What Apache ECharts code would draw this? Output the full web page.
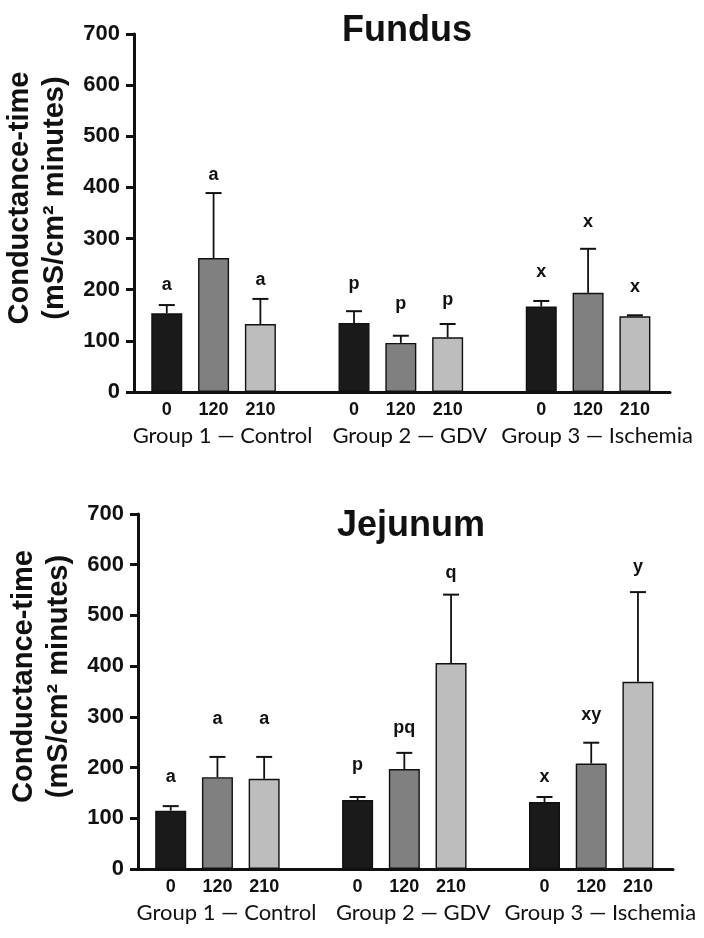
<!DOCTYPE html>
<html>
<head>
<meta charset="utf-8">
<script src="https://cdn.jsdelivr.net/npm/echarts@6/dist/echarts.min.js"></script>
<style>
html,body{margin:0;padding:0;background:#fff;}
#chart{width:704px;height:938px;}
</style>
</head>
<body>
<div id="chart"></div>
<script>
// ---- data ----
const times = ['0', '120', '210'];
const groups = ['Group 1 \u2014 Control', 'Group 2 \u2014 GDV', 'Group 3 \u2014 Ischemia'];
const yTicks = [0, 100, 200, 300, 400, 500, 600, 700];

const fundusMean = [154, 262, 133, 135, 96, 107, 167, 194, 148];
const fundusErr = [16, 127, 49, 23, 14, 26, 11, 86, 2];
const fundusLetters = ['a', 'a', 'a', 'p', 'p', 'p', 'x', 'x', 'x'];
const fundusLetterY = [209, 424, 219, 211, 172, 180, 235, 332, 205];

const jejunumMean = [115, 181, 178, 136, 197, 406, 132, 208, 369];
const jejunumErr = [9, 40, 43, 6, 32, 135, 10, 41, 177];
const jejunumLetters = ['a', 'a', 'a', 'p', 'pq', 'q', 'x', 'xy', 'y'];
const jejunumLetterY = [181, 296, 296, 205, 278, 584, 181, 304, 596];

// ---- styling / layout ----
const barColors = ['#1a1a1a', '#808080', '#bdbdbd'];
const boldFont = "'Liberation Sans', Arial, sans-serif";
const groupFont = "Lato, 'Noto Sans', sans-serif";
const xMin = -0.7, xMax = 10.75;

function pos(i) { return Math.floor(i / 3) * 4 + (i % 3); }
const tickPos = [];
groups.forEach((g, k) => times.forEach((t, j) => tickPos.push(k * 4 + j)));
const groupPos = groups.map((g, k) => k * 4 + 1);

function xAxesFor(gi) {
  return [
    {
      type: 'value', gridIndex: gi, min: xMin, max: xMax, position: 'bottom',
      axisLine: { show: true, onZero: false, lineStyle: { color: '#111', width: 3 } },
      axisTick: { show: false }, splitLine: { show: false },
      axisLabel: {
        customValues: tickPos, margin: 9,
        formatter: v => times[Math.round(v) % 4],
        fontFamily: boldFont, fontWeight: 'bold', fontSize: 18, color: '#111'
      }
    },
    {
      type: 'value', gridIndex: gi, min: xMin, max: xMax, position: 'bottom',
      axisLine: { show: false, onZero: false }, axisTick: { show: false }, splitLine: { show: false },
      axisLabel: {
        customValues: groupPos, margin: 33,
        formatter: v => groups[Math.round((v - 1) / 4)],
        fontFamily: groupFont, fontSize: 22, color: '#111', padding: [0, 0, 0, 18]
      }
    }
  ];
}
function yAxisFor(gi) {
  return {
    type: 'value', gridIndex: gi, min: yTicks[0], max: yTicks[yTicks.length - 1], interval: 100,
    position: 'left',
    name: 'Conductance-time\n(mS/cm\u00b2 minutes)',
    nameLocation: 'middle', nameRotate: 90, nameGap: 59,
    nameTextStyle: { fontFamily: boldFont, fontWeight: 'bold', fontSize: 29, lineHeight: 35, color: '#111', padding: [0, 0, 0, 30] },
    axisLine: { show: true, onZero: false, lineStyle: { color: '#111', width: 3 } },
    axisTick: { show: true, inside: false, length: 8, lineStyle: { color: '#111', width: 3 } },
    splitLine: { show: false },
    axisLabel: { margin: 14, fontFamily: boldFont, fontWeight: 'bold', fontSize: 22, color: '#111' }
  };
}

function barSeries(gi, means) {
  return {
    type: 'bar', xAxisIndex: gi * 2, yAxisIndex: gi, barWidth: 31,
    data: means.map((m, i) => ({
      value: [pos(i), m],
      itemStyle: { color: barColors[i % 3], borderColor: '#111', borderWidth: 1.4 }
    })),
    z: 2
  };
}
function errSeries(gi, means, errs) {
  return {
    type: 'custom', xAxisIndex: gi * 2, yAxisIndex: gi,
    data: means.map((m, i) => [pos(i), m, m + errs[i]]),
    renderItem: function (params, api) {
      const lo = api.coord([api.value(0), api.value(1)]);
      const hi = api.coord([api.value(0), api.value(2)]);
      const cap = 8;
      return {
        type: 'group',
        children: [
          { type: 'line', shape: { x1: lo[0], y1: lo[1], x2: hi[0], y2: hi[1] }, style: { stroke: '#111', lineWidth: 1.8 } },
          { type: 'line', shape: { x1: hi[0] - cap, y1: hi[1], x2: hi[0] + cap, y2: hi[1] }, style: { stroke: '#111', lineWidth: 2 } }
        ]
      };
    },
    z: 3
  };
}
function letterSeries(gi, letters, ly) {
  return {
    type: 'custom', xAxisIndex: gi * 2, yAxisIndex: gi,
    data: ly.map((y, i) => [pos(i), y, i]),
    renderItem: function (params, api) {
      const p = api.coord([api.value(0), api.value(1)]);
      return {
        type: 'text', x: p[0], y: p[1],
        style: { text: letters[api.value(2)], align: 'center', verticalAlign: 'middle',
          fontFamily: boldFont, fontWeight: 'bold', fontSize: 18, fill: '#111' }
      };
    },
    z: 4
  };
}

const chart = echarts.init(document.getElementById('chart'), null, { renderer: 'canvas' });
chart.setOption({
  backgroundColor: '#fff',
  animation: false,
  title: [
    { text: 'Fundus', left: 337, top: 8, textStyle: { fontFamily: boldFont, fontWeight: 'bold', fontSize: 36, color: '#111' } },
    { text: 'Jejunum', left: 332, top: 503, textStyle: { fontFamily: boldFont, fontWeight: 'bold', fontSize: 36, color: '#111' } }
  ],
  grid: [
    { left: 134, top: 34, width: 536, height: 358, outerBoundsMode: 'none', containLabel: false },
    { left: 138, top: 514, width: 535, height: 355, outerBoundsMode: 'none', containLabel: false }
  ],
  xAxis: [...xAxesFor(0), ...xAxesFor(1)],
  yAxis: [yAxisFor(0), yAxisFor(1)],
  series: [
    barSeries(0, fundusMean), errSeries(0, fundusMean, fundusErr), letterSeries(0, fundusLetters, fundusLetterY),
    barSeries(1, jejunumMean), errSeries(1, jejunumMean, jejunumErr), letterSeries(1, jejunumLetters, jejunumLetterY)
  ]
});
</script>
</body>
</html>
